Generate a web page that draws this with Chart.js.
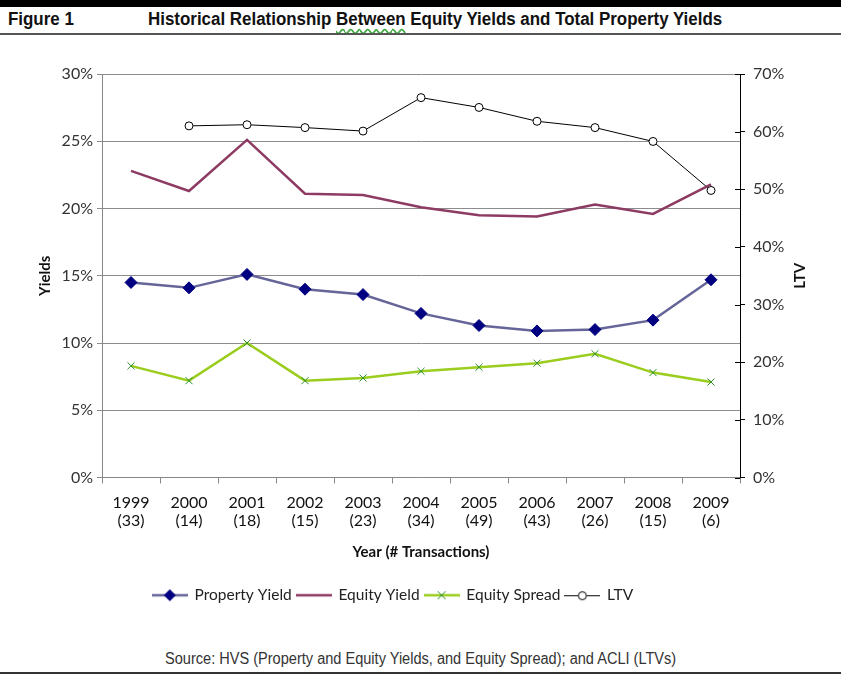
<!DOCTYPE html>
<html>
<head>
<meta charset="utf-8">
<script src="https://cdn.jsdelivr.net/npm/chart.js@4.4.0/dist/chart.umd.min.js"></script>
<style>
body { margin:0; background:#fff; width:841px; height:677px; position:relative; overflow:hidden; font-family:'Liberation Sans',Arial,sans-serif; }
#topbar { position:absolute; left:0; top:0; width:841px; height:7px; background:#000; }
.head { position:absolute; top:9px; font-weight:bold; font-size:18px; color:#111; white-space:nowrap; transform:scaleX(0.94); transform-origin:left top; }
.squig { text-decoration:underline wavy #4a4; text-underline-offset:3px; }
#rule1 { position:absolute; left:0; top:33px; width:841px; height:2px; background:#555; }
#src { position:absolute; top:650px; left:165px; font-size:16px; color:#333; white-space:nowrap; transform:scaleX(0.91); transform-origin:left top; }
#rule2 { position:absolute; left:0; top:672px; width:841px; height:2px; background:#333; }
#wrap { position:absolute; left:0; top:40px; width:841px; height:600px; }
</style>
</head>
<body>
<div id="topbar"></div>
<div class="head" style="left:8px">Figure 1</div>
<div class="head" style="left:148px">Historical Relationship <span class="squig">Between</span> Equity Yields and Total Property Yields</div>
<div id="rule1"></div>
<div id="wrap"><canvas id="chart"></canvas></div>
<div id="src">Source: HVS (Property and Equity Yields, and Equity Spread); and ACLI (LTVs)</div>
<div id="rule2"></div>
<script>
// data
const years = ['1999', '2000', '2001', '2002', '2003', '2004', '2005', '2006', '2007', '2008', '2009'];
const transactions = [33, 14, 18, 15, 23, 34, 49, 43, 26, 15, 6];
const propertyYield = [14.5, 14.1, 15.1, 14.0, 13.6, 12.2, 11.3, 10.9, 11.0, 11.7, 14.7];
const equityYield = [22.8, 21.3, 25.1, 21.1, 21.0, 20.1, 19.5, 19.4, 20.3, 19.6, 21.8];
const equitySpread = [8.3, 7.2, 10.0, 7.2, 7.4, 7.9, 8.2, 8.5, 9.2, 7.8, 7.1];
const ltv = [null, 61.0, 61.2, 60.7, 60.1, 65.9, 64.2, 61.8, 60.7, 58.3, 49.8];

const FONT = 'Lato, "Open Sans", sans-serif';

// little line+marker pictures for the legend
function legendIcon(lineColor, lineWidth, marker, markerColor) {
  const c = document.createElement('canvas');
  c.width = 36; c.height = 14;
  const g = c.getContext('2d');
  g.strokeStyle = lineColor;
  g.lineWidth = lineWidth;
  const ly = lineWidth === 1 ? 7.5 : 7;
  g.beginPath(); g.moveTo(0, ly); g.lineTo(36, ly); g.stroke();
  if (marker === 'diamond') {
    g.fillStyle = markerColor;
    g.beginPath(); g.moveTo(18, 1); g.lineTo(24, 7); g.lineTo(18, 13); g.lineTo(12, 7); g.closePath(); g.fill();
  } else if (marker === 'x') {
    g.strokeStyle = markerColor; g.lineWidth = 1;
    g.beginPath(); g.moveTo(14, 3); g.lineTo(22, 11); g.moveTo(22, 3); g.lineTo(14, 11); g.stroke();
  } else if (marker === 'circle') {
    g.fillStyle = '#fff'; g.strokeStyle = markerColor; g.lineWidth = 1;
    g.beginPath(); g.arc(18, 7.5, 4, 0, Math.PI * 2); g.fill(); g.stroke();
  }
  return c;
}

const icons = [
  legendIcon('#65659a', 2.5, 'diamond', '#000080'),
  legendIcon('#8e3b63', 2.5, null, null),
  legendIcon('#9acd1e', 2.5, 'x', '#2f8f2f'),
  legendIcon('#000', 1, 'circle', '#000')
];

// right axis: title reads bottom-to-top like the left one, ticks cross the axis line
const ltvAxisExtras = {
  id: 'ltvAxisExtras',
  afterUpdate(chart) {
    // excel puts the legend a bit left of centre
    chart.legend.left -= 30;
    chart.legend.right -= 30;
  },
  afterDraw(chart) {
    const s = chart.scales.y1;
    const c = chart.ctx;
    c.save();
    c.strokeStyle = '#000';
    c.lineWidth = 1;
    s.ticks.forEach(t => {
      const py = Math.round(s.getPixelForValue(t.value)) + 0.5;
      c.beginPath(); c.moveTo(s.left - 5, py); c.lineTo(s.left, py); c.stroke();
    });
    c.translate(s.right - 10, (chart.chartArea.top + chart.chartArea.bottom) / 2);
    c.rotate(-Math.PI / 2);
    c.font = 'bold 15px ' + FONT;
    c.fillStyle = '#111';
    c.textAlign = 'center';
    c.textBaseline = 'middle';
    c.fillText('LTV', 0, 0);
    c.restore();
  }
};

const ctx = document.getElementById('chart').getContext('2d');
const chart = new Chart(ctx, {
  type: 'line',
  data: {
    labels: years.map((y, i) => [y, '(' + transactions[i] + ')']),
    datasets: [{
      label: 'Property Yield',
      data: propertyYield,
      yAxisID: 'y',
      borderColor: '#65659a',
      borderWidth: 2.5,
      pointStyle: 'rectRot',
      pointRadius: 6,
      pointBackgroundColor: '#000080',
      pointBorderColor: '#000080',
      pointBorderWidth: 1
    }, {
      label: 'Equity Yield',
      data: equityYield,
      yAxisID: 'y',
      borderColor: '#8e3b63',
      borderWidth: 2.5,
      pointRadius: 0
    }, {
      label: 'Equity Spread',
      data: equitySpread,
      yAxisID: 'y',
      borderColor: '#9acd1e',
      borderWidth: 2.5,
      pointStyle: 'crossRot',
      pointRadius: 5,
      pointBorderColor: '#2f8f2f',
      pointBorderWidth: 1
    }, {
      label: 'LTV',
      data: ltv,
      yAxisID: 'y1',
      borderColor: '#000',
      borderWidth: 1,
      pointStyle: 'circle',
      pointRadius: 4,
      pointBackgroundColor: '#fff',
      pointBorderColor: '#000',
      pointBorderWidth: 1
    }]
  },
  plugins: [ltvAxisExtras],
  options: {
    responsive: true,
    maintainAspectRatio: false,
    animation: false,
    layout: { padding: { left: 36, right: 31, top: 34, bottom: 27 } },
    plugins: {
      tooltip: { enabled: false },
      legend: {
        position: 'bottom',
        labels: {
          usePointStyle: true,
          pointStyleWidth: 34,
          boxHeight: 14,
          padding: 5,
          color: '#222',
          font: { family: FONT, size: 15.5 },
          generateLabels: function (chart) {
            return chart.data.datasets.map((ds, i) => ({
              text: ds.label,
              pointStyle: icons[i],
              fillStyle: 'transparent',
              strokeStyle: 'transparent',
              lineWidth: 0,
              hidden: false,
              datasetIndex: i,
              fontColor: '#222'
            }));
          }
        }
      }
    },
    scales: {
      x: {
        offset: true,
        afterFit: function (s) { s.height = 105; },
        grid: { offset: true, drawOnChartArea: false, drawTicks: true, tickLength: 6, color: '#888' },
        border: { color: '#888', width: 1 },
        ticks: { color: '#111', padding: 10, font: { family: FONT, size: 16, lineHeight: 1.15 }, maxRotation: 0 },
        title: { display: true, text: 'Year (# Transactions)', color: '#111', font: { family: FONT, size: 15, weight: 'bold' }, padding: { top: 0, bottom: 21 } }
      },
      y: {
        position: 'left',
        min: 0, max: 30,
        afterFit: function (s) { s.width = 66; },
        grid: { color: '#8c8c8c', lineWidth: 1, drawTicks: true, tickLength: 5 },
        border: { color: '#888', width: 1 },
        ticks: { stepSize: 5, color: '#333', padding: 4, font: { family: FONT, size: 16 }, callback: v => v + '%' },
        title: { display: true, text: 'Yields', color: '#111', font: { family: FONT, size: 15, weight: 'bold' }, padding: { top: 0 } }
      },
      y1: {
        position: 'right',
        min: 0, max: 70,
        afterFit: function (s) { s.width = 70; },
        grid: { drawOnChartArea: false, drawTicks: true, tickLength: 5, color: '#000' },
        border: { color: '#000', width: 1 },
        ticks: { stepSize: 10, color: '#333', padding: 8, font: { family: FONT, size: 16 }, callback: v => v + '%' },
        title: { display: false }
      }
    }
  }
});
</script>
</body>
</html>
